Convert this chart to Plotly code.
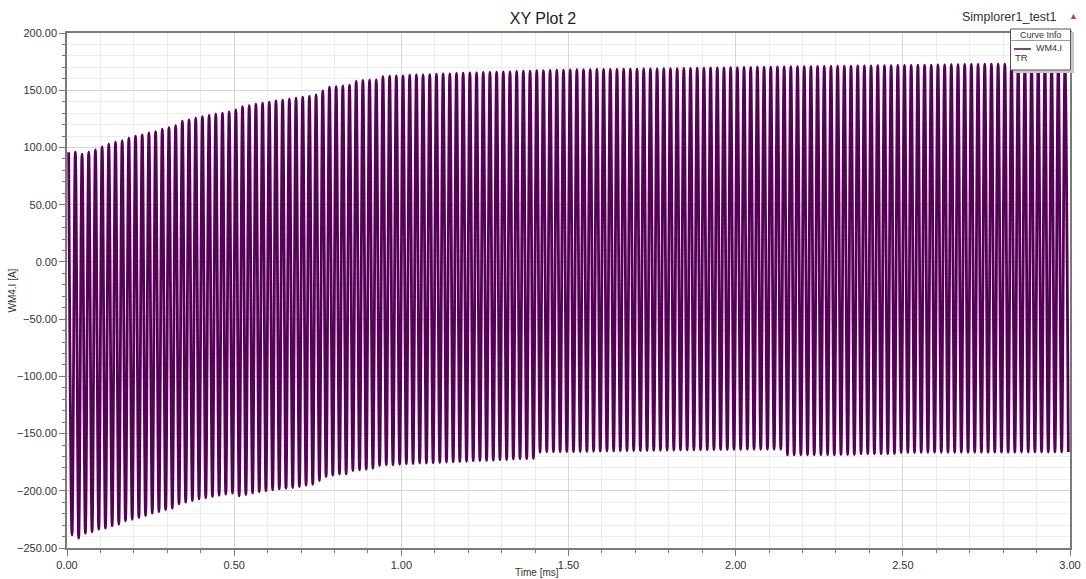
import plotly.graph_objects as go

# WM4.I current waveform: one positive peak and one negative trough per switching period
PERIOD_MS = 0.02
FIRST_PEAK_MS = 0.005

PEAKS_A = [
    95.8, 95.8, 94.1, 95.8, 97.9, 100.5, 102.8, 104.6, 105.7, 108.1,
    109.8, 111.0, 112.7, 113.9, 115.9, 117.4, 119.1, 122.9, 124.1, 125.6,
    127.0, 127.9, 129.0, 129.9, 131.1, 132.8, 135.7, 136.6, 137.8, 138.7,
    139.5, 140.7, 141.3, 142.2, 143.0, 143.9, 144.5, 145.9, 149.4, 152.6,
    153.2, 153.8, 154.4, 157.6, 158.5, 158.8, 159.0, 161.9, 162.2, 162.5,
    162.5, 163.1, 163.4, 163.4, 163.7, 164.0, 164.3, 164.3, 164.6, 164.9,
    165.2, 165.2, 165.5, 165.5, 165.8, 166.1, 166.1, 166.4, 166.7, 166.7,
    167.0, 167.0, 167.3, 167.6, 167.6,
    167.8, 167.9, 168.0, 168.0, 168.1, 168.2, 168.2, 168.3, 168.4, 168.4,
    168.5, 168.6, 168.6, 168.7, 168.8, 168.8, 168.9, 169.0, 169.1, 169.2,
    169.3, 169.4, 169.5, 169.6, 169.7, 169.8, 169.9, 170.0, 170.1, 170.1,
    170.2, 170.3, 170.4, 170.5, 170.6, 170.7, 170.7, 170.8,
    170.9, 170.9, 171.0, 171.1, 171.1, 171.2, 171.3, 171.3, 171.4, 171.5,
    171.5, 171.6, 171.7, 171.7, 171.8,
    171.9, 172.0, 172.1, 172.2, 172.3, 172.4, 172.5, 172.5, 172.6, 172.7,
    172.7, 172.8, 172.8, 172.8, 172.9, 172.9, 172.9, 172.9, 173.0, 173.0,
    173.0, 173.0,
]

TROUGHS_A = [
    -238.6, -241.4, -237.1, -235.9, -233.6, -232.7, -230.7, -229.2, -226.3, -224.9,
    -223.4, -221.7, -219.6, -218.2, -216.7, -215.3, -211.5, -210.0, -208.6, -207.1,
    -206.2, -205.1, -203.9, -203.0, -202.1, -204.5, -203.3, -202.1, -201.0, -200.1,
    -199.2, -198.4, -197.8, -197.2, -196.3, -195.2, -194.3, -191.1, -187.6, -186.4,
    -185.5, -185.3, -182.3, -181.8, -181.2, -180.3, -178.0, -177.4, -177.4, -176.8,
    -176.5, -176.2, -175.9, -175.9, -175.6, -175.3, -175.0, -174.8, -174.5, -174.2,
    -173.9, -173.6, -173.6, -173.3, -173.0, -172.7, -172.4, -172.1, -172.1, -171.9,
    -166.3, -166.0, -166.0, -165.8, -165.8,
    -165.8, -165.7, -165.6, -165.5, -165.4, -165.3, -165.2, -165.1, -165.0, -164.9,
    -164.9, -164.8, -164.7, -164.6, -164.5, -164.5, -164.4, -164.3, -164.3, -164.2,
    -164.1, -164.1, -164.0, -164.0, -163.9, -163.9, -163.8, -163.8, -163.8, -163.8,
    -163.8, -163.8,
    -168.7, -168.7, -168.6, -168.6, -168.6, -168.5, -168.5, -168.5, -168.4, -168.4,
    -168.4,
    -167.8, -167.8, -167.7, -167.7, -167.6, -167.6,
    -166.6, -166.6, -166.6, -166.5, -166.5, -166.5, -166.5, -166.4, -166.4, -166.4,
    -166.4, -166.4, -166.3, -166.3, -166.3, -166.3, -166.3, -166.3, -166.2, -166.2,
    -166.2, -166.2, -166.2, -166.2, -166.2, -166.2,
]

Y_TICKS = [-250, -200, -150, -100, -50, 0, 50, 100, 150, 200]
X_TICKS = [0.0, 0.5, 1.0, 1.5, 2.0, 2.5, 3.0]

TRACE_COLOR = "#560057"
FONT = "Arial, Liberation Sans, sans-serif"

# alternate peak / trough samples along the time axis
t_ms, current = [], []
for k, (hi, lo) in enumerate(zip(PEAKS_A, TROUGHS_A)):
    t_pk = FIRST_PEAK_MS + k * PERIOD_MS
    t_ms += [t_pk, t_pk + PERIOD_MS / 2]
    current += [hi, lo]

fig = go.Figure()
fig.add_trace(go.Scatter(
    x=t_ms, y=current, mode="lines", name="WM4.I",
    line=dict(color=TRACE_COLOR, width=2.8, shape="spline", smoothing=1.0),
    showlegend=False, hoverinfo="x+y",
))

# plot area in pixels: x 67..1070, y 33..548
L, R, T, B = 67, 1070, 33, 548
W, H = 1086, 579


def px(xp):
    return (xp - L) / (R - L)


def py(yp):
    return (B - yp) / (B - T)


axis_common = dict(
    showline=True, mirror=True, linecolor="#7a7a7a", linewidth=1.5,
    ticks="outside", ticklen=6, tickcolor="#7a7a7a", tickwidth=1,
    showgrid=True, gridcolor="#d6d6d6", gridwidth=1, zeroline=False,
    tickfont=dict(family=FONT, size=11, color="#333333"),
    tickformat=".2f", automargin=False,
)

fig.update_xaxes(
    range=[0, 3], tickvals=X_TICKS,
    minor=dict(dtick=0.1, showgrid=True, gridcolor="#ececec", ticks="outside",
               ticklen=3, tickcolor="#7a7a7a"),
    **axis_common,
)
fig.update_yaxes(
    range=[-250, 200], tickvals=Y_TICKS,
    minor=dict(dtick=10, showgrid=True, gridcolor="#ececec", ticks="outside",
               ticklen=3, tickcolor="#7a7a7a"),
    **axis_common,
)

shapes = [
    # curve info box: shadow, frame, header rule, line sample
    dict(type="rect", xref="paper", yref="paper", x0=px(1013.5), x1=px(1074),
         y0=py(73), y1=py(32), fillcolor="#c9c9c9", line=dict(width=0), layer="above"),
    dict(type="rect", xref="paper", yref="paper", x0=px(1010.5), x1=px(1070.5),
         y0=py(70), y1=py(29), fillcolor="white", line=dict(color="#555555", width=1),
         layer="above"),
    dict(type="line", xref="paper", yref="paper", x0=px(1010.5), x1=px(1070.5),
         y0=py(40.5), y1=py(40.5), line=dict(color="#9a9a9a", width=1), layer="above"),
    dict(type="line", xref="paper", yref="paper", x0=px(1014), x1=px(1031),
         y0=py(49), y1=py(49), line=dict(color=TRACE_COLOR, width=1.5), layer="above"),
]

annotations = [
    dict(text="Simplorer1_test1", xref="paper", yref="paper", x=px(1059), y=py(17),
         xanchor="right", yanchor="middle", showarrow=False,
         font=dict(family=FONT, size=12.5, color="#333333")),
    dict(text="▲", xref="paper", yref="paper", x=px(1073), y=py(16),
         xanchor="center", yanchor="middle", showarrow=False,
         font=dict(family=FONT, size=9, color="#c43c3c")),
    dict(text="Curve Info", xref="paper", yref="paper", x=px(1041), y=py(35),
         xanchor="center", yanchor="middle", showarrow=False,
         font=dict(family=FONT, size=9, color="#333333")),
    dict(text="WM4.I", xref="paper", yref="paper", x=px(1034), y=py(47.5),
         xanchor="left", yanchor="middle", showarrow=False,
         font=dict(family=FONT, size=9, color="#333333")),
    dict(text="TR", xref="paper", yref="paper", x=px(1012.5), y=py(57.5),
         xanchor="left", yanchor="middle", showarrow=False,
         font=dict(family=FONT, size=9.5, color="#333333")),
    dict(text="WM4.I [A]", xref="paper", yref="paper", x=px(12), y=0.5,
         xanchor="center", yanchor="middle", textangle=-90, showarrow=False,
         font=dict(family=FONT, size=10, color="#333333")),
    dict(text="Time [ms]", xref="paper", yref="paper", x=px(537), y=py(572),
         xanchor="center", yanchor="middle", showarrow=False,
         font=dict(family=FONT, size=10, color="#333333")),
]

fig.update_layout(
    width=W, height=H,
    margin=dict(l=L, r=W - R, t=T, b=H - B, autoexpand=False),
    paper_bgcolor="white", plot_bgcolor="white",
    title=dict(text="XY Plot 2", x=0.5, xref="container", xanchor="center",
               y=1 - 18 / H, yref="container", yanchor="middle",
               font=dict(family=FONT, size=16, color="#222222")),
    shapes=shapes, annotations=annotations,
    showlegend=False,
)

fig.write_html("out.html")
